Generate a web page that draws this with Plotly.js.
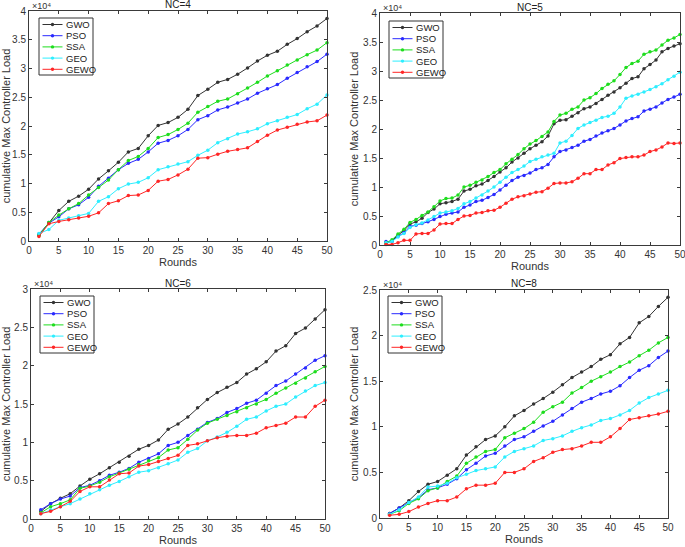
<!DOCTYPE html>
<html>
<head>
<meta charset="utf-8">
<script src="https://cdn.plot.ly/plotly-3.0.1.min.js"></script>
<style>
html,body{margin:0;padding:0;background:#fff;}
#chart{width:685px;height:547px;}
</style>
</head>
<body>
<div id="chart"></div>
<script>
// ---- Data (values in units of 10^4) ----
const seriesNames = ["GWO", "PSO", "SSA", "GEO", "GEWO"];
const panelTitles = ["NC=4", "NC=5", "NC=6", "NC=8"];
const xTitle = "Rounds";
const yTitle = "cumulative Max Controller Load";
const expLabel = "\u00d710\u2074";

const rounds30 = [1.67,3.33,5,6.67,8.33,10,11.67,13.33,15,16.67,18.33,20,21.67,23.33,25,26.67,28.33,30,31.67,33.33,35,36.67,38.33,40,41.67,43.33,45,46.67,48.33,50];
const rounds50 = [1,2,3,4,5,6,7,8,9,10,11,12,13,14,15,16,17,18,19,20,21,22,23,24,25,26,27,28,29,30,31,32,33,34,35,36,37,38,39,40,41,42,43,44,45,46,47,48,49,50];

// NC=4
const nc4_GWO  = [0.10,0.32,0.53,0.69,0.78,0.90,1.08,1.22,1.37,1.55,1.61,1.83,2.01,2.06,2.15,2.29,2.53,2.64,2.76,2.81,2.90,3.01,3.13,3.23,3.30,3.42,3.52,3.64,3.74,3.87];
const nc4_PSO  = [0.12,0.31,0.42,0.56,0.63,0.76,0.95,1.09,1.24,1.35,1.42,1.55,1.70,1.75,1.83,1.94,2.11,2.18,2.28,2.33,2.40,2.47,2.57,2.65,2.72,2.83,2.93,3.03,3.12,3.25];
const nc4_SSA  = [0.10,0.32,0.45,0.56,0.65,0.80,0.93,1.06,1.24,1.40,1.47,1.61,1.80,1.85,1.94,2.05,2.24,2.34,2.43,2.47,2.56,2.66,2.76,2.87,2.96,3.06,3.15,3.24,3.32,3.45];
const nc4_GEO  = [0.13,0.20,0.36,0.40,0.44,0.48,0.69,0.77,0.91,0.99,1.02,1.10,1.24,1.29,1.34,1.38,1.49,1.58,1.71,1.78,1.86,1.90,1.95,2.04,2.09,2.15,2.20,2.30,2.38,2.54];
const nc4_GEWO = [0.08,0.30,0.34,0.37,0.40,0.43,0.49,0.65,0.70,0.79,0.80,0.88,1.04,1.07,1.15,1.25,1.44,1.45,1.51,1.56,1.59,1.62,1.73,1.84,1.93,1.98,2.03,2.07,2.09,2.19];

// NC=5
const nc5_GWO  = [0.03,0.07,0.17,0.25,0.36,0.40,0.46,0.56,0.62,0.71,0.73,0.75,0.79,0.93,0.96,1.02,1.05,1.11,1.18,1.26,1.33,1.43,1.50,1.58,1.66,1.72,1.78,1.88,2.09,2.15,2.16,2.22,2.28,2.35,2.38,2.44,2.51,2.58,2.64,2.71,2.79,2.87,2.90,3.04,3.11,3.19,3.33,3.39,3.43,3.47];
const nc5_PSO  = [0.06,0.06,0.15,0.21,0.32,0.34,0.37,0.40,0.44,0.49,0.53,0.55,0.57,0.65,0.69,0.75,0.77,0.82,0.87,0.95,1.03,1.11,1.17,1.20,1.24,1.30,1.33,1.39,1.52,1.61,1.64,1.68,1.72,1.79,1.82,1.88,1.93,1.97,2.01,2.07,2.14,2.18,2.21,2.31,2.34,2.38,2.45,2.51,2.55,2.60];
const nc5_SSA  = [0.04,0.09,0.19,0.27,0.39,0.44,0.51,0.57,0.66,0.76,0.80,0.81,0.86,1.00,1.03,1.08,1.12,1.18,1.25,1.30,1.40,1.48,1.56,1.66,1.74,1.80,1.87,1.95,2.13,2.24,2.27,2.34,2.38,2.50,2.54,2.61,2.70,2.77,2.83,2.94,3.06,3.13,3.17,3.29,3.33,3.36,3.45,3.53,3.57,3.63];
const nc5_GEO  = [0.04,0.06,0.14,0.20,0.30,0.35,0.38,0.43,0.49,0.55,0.57,0.59,0.63,0.71,0.75,0.81,0.86,0.93,1.00,1.08,1.17,1.25,1.30,1.36,1.44,1.48,1.52,1.55,1.58,1.76,1.79,1.89,2.01,2.07,2.11,2.15,2.20,2.22,2.27,2.38,2.53,2.57,2.60,2.64,2.68,2.73,2.78,2.85,2.91,2.98];
const nc5_GEWO = [0.01,0.01,0.04,0.08,0.08,0.19,0.20,0.20,0.26,0.36,0.37,0.37,0.44,0.50,0.51,0.55,0.56,0.59,0.60,0.65,0.72,0.79,0.83,0.85,0.88,0.91,0.92,0.98,1.06,1.07,1.07,1.09,1.15,1.23,1.23,1.30,1.30,1.38,1.42,1.49,1.51,1.52,1.52,1.55,1.61,1.64,1.69,1.76,1.75,1.76];

// NC=6
const nc6_GWO  = [0.10,0.20,0.27,0.33,0.43,0.52,0.59,0.67,0.74,0.82,0.91,0.96,1.03,1.17,1.24,1.33,1.45,1.56,1.65,1.72,1.78,1.89,1.96,2.05,2.19,2.26,2.42,2.49,2.61,2.73];
const nc6_PSO  = [0.12,0.20,0.26,0.30,0.41,0.44,0.50,0.57,0.61,0.66,0.74,0.79,0.85,0.96,1.00,1.09,1.17,1.26,1.31,1.39,1.44,1.51,1.55,1.64,1.74,1.80,1.89,1.97,2.07,2.13];
const nc6_SSA  = [0.08,0.16,0.20,0.25,0.40,0.43,0.48,0.55,0.60,0.65,0.71,0.76,0.80,0.90,0.93,1.04,1.16,1.25,1.30,1.35,1.40,1.45,1.50,1.56,1.64,1.71,1.77,1.84,1.92,1.99];
const nc6_GEO  = [0.07,0.12,0.16,0.20,0.26,0.33,0.38,0.44,0.49,0.55,0.61,0.63,0.67,0.72,0.77,0.87,0.92,1.02,1.07,1.13,1.21,1.30,1.33,1.41,1.47,1.50,1.59,1.67,1.74,1.78];
const nc6_GEWO = [0.07,0.10,0.16,0.23,0.36,0.42,0.42,0.51,0.59,0.60,0.69,0.71,0.75,0.79,0.83,0.96,0.98,1.02,1.06,1.08,1.09,1.09,1.12,1.19,1.22,1.25,1.33,1.33,1.47,1.55];

// NC=8
const nc8_GWO  = [0.05,0.11,0.19,0.29,0.37,0.40,0.47,0.54,0.69,0.78,0.86,0.90,1.00,1.12,1.18,1.25,1.31,1.38,1.46,1.54,1.60,1.66,1.74,1.79,1.91,1.98,2.14,2.21,2.32,2.42];
const nc8_PSO  = [0.05,0.11,0.17,0.22,0.31,0.33,0.37,0.43,0.53,0.60,0.68,0.71,0.79,0.86,0.89,0.95,1.01,1.06,1.13,1.20,1.27,1.31,1.36,1.39,1.45,1.54,1.62,1.67,1.76,1.83];
const nc8_SSA  = [0.04,0.08,0.16,0.21,0.30,0.33,0.40,0.46,0.60,0.67,0.73,0.75,0.88,0.93,0.98,1.05,1.16,1.22,1.27,1.37,1.43,1.50,1.55,1.60,1.66,1.71,1.78,1.84,1.92,1.98];
const nc8_GEO  = [0.04,0.09,0.17,0.23,0.34,0.35,0.38,0.44,0.48,0.52,0.54,0.56,0.67,0.73,0.76,0.79,0.85,0.87,0.90,0.95,0.99,1.02,1.07,1.09,1.13,1.18,1.26,1.32,1.36,1.40];
const nc8_GEWO = [0.03,0.04,0.07,0.12,0.16,0.19,0.19,0.23,0.32,0.36,0.36,0.38,0.50,0.50,0.54,0.62,0.66,0.72,0.75,0.76,0.79,0.83,0.83,0.89,0.98,1.08,1.10,1.12,1.14,1.17];

const yMax = [4, 4, 3, 2.5];

// ---- Build ----
const panels = [
  {x: rounds30, ys: [nc4_GWO, nc4_PSO, nc4_SSA, nc4_GEO, nc4_GEWO]},
  {x: rounds50, ys: [nc5_GWO, nc5_PSO, nc5_SSA, nc5_GEO, nc5_GEWO]},
  {x: rounds30, ys: [nc6_GWO, nc6_PSO, nc6_SSA, nc6_GEO, nc6_GEWO]},
  {x: rounds30, ys: [nc8_GWO, nc8_PSO, nc8_SSA, nc8_GEO, nc8_GEWO]}
];

const colors = ["#333333", "#2a2aff", "#1edd1e", "#2eeeff", "#ff2626"];
const W = 685, H = 547;
const boxes = [
  {l: 29,  r: 327, t: 11,  b: 241},
  {l: 380, r: 680, t: 13,  b: 245},
  {l: 31,  r: 325, t: 289, b: 519},
  {l: 380, r: 668, t: 290, b: 518}
];
const legOff = [{dx: 10, dy: 7}, {dx: 9, dy: 8}, {dx: 9, dy: 7}, {dx: 8, dy: 6}];
const X = px => px / W;
const Y = py => 1 - py / H;
const FONT = "Liberation Sans, Arial, Helvetica, sans-serif";
const axisColor = "#3a3a3a";

const traces = [];
const layout = {
  width: W, height: H,
  margin: {l: 0, r: 0, t: 0, b: 0},
  paper_bgcolor: "#ffffff",
  plot_bgcolor: "#ffffff",
  showlegend: false,
  font: {family: FONT, size: 10, color: "#333"},
  annotations: [],
  shapes: []
};

panels.forEach((p, i) => {
  const n = i === 0 ? "" : String(i + 1);
  const b = boxes[i];
  p.ys.forEach((ys, j) => {
    traces.push({
      type: "scatter", mode: "lines+markers",
      x: p.x, y: ys, name: seriesNames[j],
      xaxis: "x" + n, yaxis: "y" + n,
      line: {color: colors[j], width: 1},
      marker: {color: colors[j], size: 3.5, symbol: "circle"},
      cliponaxis: false
    });
  });
  const common = {
    showline: true, linecolor: axisColor, linewidth: 1, mirror: "ticks",
    ticks: "inside", ticklen: 3, tickcolor: axisColor, tickwidth: 1,
    showgrid: false, zeroline: false, ticklabeloverflow: "allow",
    tickfont: {family: FONT, size: 10, color: "#333"}
  };
  layout["xaxis" + n] = Object.assign({}, common, {
    domain: [X(b.l), X(b.r)], anchor: "y" + n,
    range: [0, 50], tick0: 0, dtick: 5,
    title: {text: xTitle, font: {family: FONT, size: 11, color: "#333"}, standoff: 1}
  });
  layout["yaxis" + n] = Object.assign({}, common, {
    domain: [Y(b.b), Y(b.t)], anchor: "x" + n,
    range: [0, yMax[i]], tick0: 0, dtick: 0.5,
    title: {text: yTitle, font: {family: FONT, size: 11, color: "#333"}, standoff: 2}
  });
  // Panel title
  layout.annotations.push({
    xref: "paper", yref: "paper", x: X((b.l + b.r) / 2), y: Y(b.t - 6),
    xanchor: "center", yanchor: "middle", showarrow: false,
    text: panelTitles[i], font: {family: FONT, size: 10, color: "#222"}
  });
  // Exponent label
  layout.annotations.push({
    xref: "paper", yref: "paper", x: X(b.l + 1), y: Y(b.t - 5),
    xanchor: "left", yanchor: "middle", showarrow: false,
    text: expLabel, font: {family: FONT, size: 9, color: "#333"}
  });
  // Legend box
  const lx = b.l + legOff[i].dx, ty = b.t + legOff[i].dy;
  const lw = 54, lh = 57;
  layout.shapes.push({
    type: "rect", xref: "paper", yref: "paper",
    x0: X(lx), x1: X(lx + lw), y0: Y(ty + lh), y1: Y(ty),
    line: {color: "#333", width: 1}, fillcolor: "#ffffff"
  });
  seriesNames.forEach((nm, j) => {
    const ry = ty + 6.5 + 11.2 * j;
    layout.shapes.push({
      type: "line", xref: "paper", yref: "paper",
      x0: X(lx + 3.5), x1: X(lx + 23.5), y0: Y(ry), y1: Y(ry),
      line: {color: colors[j], width: 1}
    });
    layout.shapes.push({
      type: "circle", xref: "paper", yref: "paper",
      x0: X(lx + 11.8), x1: X(lx + 15.2), y0: Y(ry + 1.7), y1: Y(ry - 1.7),
      line: {color: colors[j], width: 0}, fillcolor: colors[j]
    });
    layout.annotations.push({
      xref: "paper", yref: "paper", x: X(lx + 25), y: Y(ry),
      xanchor: "left", yanchor: "middle", showarrow: false,
      text: nm, font: {family: FONT, size: 9.5, color: "#222"}
    });
  });
});

Plotly.newPlot("chart", traces, layout, {staticPlot: true, displayModeBar: false});
</script>
</body>
</html>
